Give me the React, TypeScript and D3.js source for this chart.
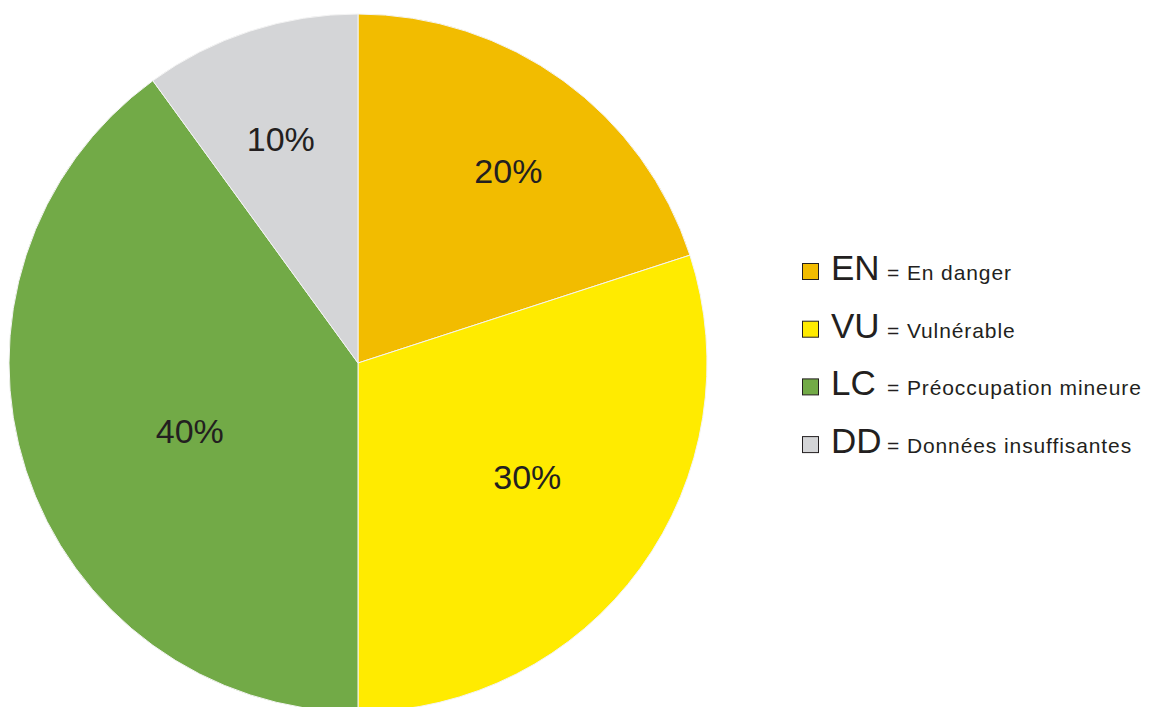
import React from "react";
import * as d3 from "d3";

// catégories UICN et parts (%)
const codes = ["EN", "VU", "LC", "DD"];
const labels = ["= En danger", "= Vulnérable", "= Préoccupation mineure", "= Données insuffisantes"];
const values = [20, 30, 40, 10];
const colors = ["#F2BC00", "#FFEB00", "#72AA47", "#D4D5D7"];

const W = 1149;
const H = 707;
const cx = 358;
const cy = 363;
const R = 349;
// placement des étiquettes : distance (fraction du rayon) et décalage d'angle (degrés)
const labelFactor = [0.7, 0.585, 0.52, 0.68];
const labelShift = [2, -2, -4, -1];

export default function App() {
    const pie = d3.pie<number>().sort(null).value((d) => d);
    const arcs = pie(values);
    const arc = d3.arc<d3.PieArcDatum<number>>().innerRadius(0).outerRadius(R);

    return (
        <svg width={W} height={H} style={{ position: "fixed", top: 0, left: 0 }}
            fontFamily="'Liberation Sans', Arial, sans-serif">
            <rect width={W} height={H} fill="#fff" />
            <g transform={`translate(${cx},${cy})`}>
                {arcs.map((a, i) => (
                    <path key={i} d={arc(a) || ""} fill={colors[i]} stroke="#f4f4f4" strokeWidth={1} />
                ))}
                {arcs.map((a, i) => {
                    const r = R * labelFactor[i];
                    const ang = (a.startAngle + a.endAngle) / 2 + (labelShift[i] * Math.PI) / 180;
                    const x = r * Math.sin(ang);
                    const y = -r * Math.cos(ang);
                    return (
                        <text key={i} x={x} y={y} textAnchor="middle" dominantBaseline="central"
                            fontSize={34} fill="#231f20">{values[i]}%</text>
                    );
                })}
            </g>
            <g>
                {codes.map((code, i) => {
                    const base = 280 + i * 57.7;
                    return (
                        <g key={code}>
                            <rect x={802.5} y={base - 16.5} width={16} height={16} fill={colors[i]}
                                stroke="#231f20" strokeWidth={1} />
                            <text x={831} y={base} fontSize={35} fill="#231f20">{code}</text>
                            <text x={887} y={base} fontSize={21} letterSpacing={0.9} fill="#231f20">{labels[i]}</text>
                        </g>
                    );
                })}
            </g>
        </svg>
    );
}
